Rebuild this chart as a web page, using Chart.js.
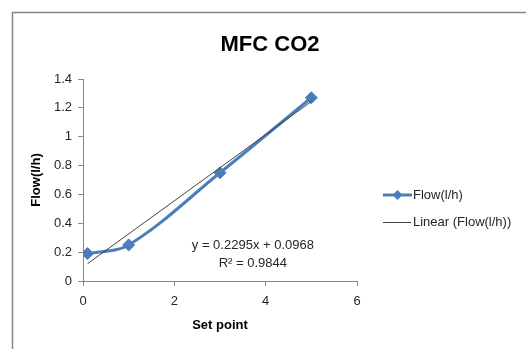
<!DOCTYPE html>
<html>
<head>
<meta charset="utf-8">
<script src="https://cdn.jsdelivr.net/npm/chart.js@4/dist/chart.umd.min.js"></script>
<style>
  html, body { margin: 0; padding: 0; background: #fff; }
  #wrap { position: relative; width: 526px; height: 349px; }
</style>
</head>
<body>
<div id="wrap"><canvas id="mfc-chart"></canvas></div>
<script>
// measured flow at each set point
const setPoints = [0.1, 1, 3, 5];
const flowValues = [0.19, 0.25, 0.75, 1.27];

// least squares fit shown on the chart
const trendSlope = 0.2295;
const trendIntercept = 0.0968;
const rSquared = 0.9844;

const xTicks = [0, 2, 4, 6];
const yTicks = [0, 0.2, 0.4, 0.6, 0.8, 1, 1.2, 1.4];

const chartTitle = "MFC CO2";
const seriesName = "Flow(l/h)";
const trendName = "Linear (Flow(l/h))";

const blue = "#4a7ebb";
const axisGrey = "#868686";
const textColor = "#262626";
const fontFamily = "'Liberation Sans', Arial, sans-serif";

const flowPoints = setPoints.map(function (x, i) {
  return { x: x, y: flowValues[i] };
});

const trendX = [setPoints[0], setPoints[setPoints.length - 1]];
const trendPoints = trendX.map(function (x) {
  return { x: x, y: trendSlope * x + trendIntercept };
});

// outer frame, title, equation text and legend
const decorations = {
  id: "decorations",
  beforeDraw: function (chart) {
    const ctx = chart.ctx;
    ctx.save();
    ctx.strokeStyle = axisGrey;
    ctx.lineWidth = 1.5;
    ctx.beginPath();
    ctx.moveTo(12.5, 349);
    ctx.lineTo(12.5, 12.5);
    ctx.lineTo(526, 12.5);
    ctx.stroke();

    ctx.fillStyle = "#000";
    ctx.font = "bold 22px " + fontFamily;
    ctx.textAlign = "center";
    ctx.textBaseline = "middle";
    ctx.fillText(chartTitle, 270, 45);
    ctx.restore();
  },
  afterDraw: function (chart) {
    const ctx = chart.ctx;
    const xs = chart.scales.x;
    const ys = chart.scales.y;
    ctx.save();
    ctx.fillStyle = textColor;
    ctx.font = "13px " + fontFamily;
    ctx.textAlign = "center";
    ctx.textBaseline = "middle";
    const eqX = xs.getPixelForValue(3.72);
    ctx.fillText("y = " + trendSlope + "x + " + trendIntercept, eqX, ys.getPixelForValue(0.25));
    ctx.fillText("R\u00b2 = " + rSquared, eqX, ys.getPixelForValue(0.125));

    // legend
    const lx = 383, ly1 = 195, ly2 = 222;
    ctx.strokeStyle = blue;
    ctx.lineWidth = 3;
    ctx.beginPath();
    ctx.moveTo(lx, ly1);
    ctx.lineTo(lx + 29, ly1);
    ctx.stroke();
    ctx.fillStyle = blue;
    ctx.beginPath();
    ctx.moveTo(lx + 14.5, ly1 - 5);
    ctx.lineTo(lx + 19.5, ly1);
    ctx.lineTo(lx + 14.5, ly1 + 5);
    ctx.lineTo(lx + 9.5, ly1);
    ctx.closePath();
    ctx.fill();

    ctx.strokeStyle = "#404040";
    ctx.lineWidth = 1;
    ctx.beginPath();
    ctx.moveTo(lx, ly2 + 0.5);
    ctx.lineTo(lx + 28, ly2 + 0.5);
    ctx.stroke();

    ctx.fillStyle = textColor;
    ctx.textAlign = "left";
    ctx.fillText(seriesName, lx + 30, ly1);
    ctx.fillText(trendName, lx + 30, ly2);
    ctx.restore();
  }
};

new Chart(document.getElementById("mfc-chart"), {
  type: "scatter",
  data: {
    datasets: [
      {
        label: trendName,
        data: trendPoints,
        showLine: true,
        borderColor: "#404040",
        borderWidth: 1,
        pointRadius: 0,
        tension: 0
      },
      {
        label: seriesName,
        data: flowPoints,
        showLine: true,
        borderColor: blue,
        backgroundColor: blue,
        borderWidth: 3,
        pointStyle: "rectRot",
        pointRadius: 6,
        pointBorderWidth: 1,
        tension: 0.35
      }
    ]
  },
  options: {
    responsive: true,
    maintainAspectRatio: false,
    animation: false,
    layout: { padding: { left: 0, right: 169, top: 79, bottom: 0 } },
    plugins: {
      legend: { display: false },
      tooltip: { enabled: false },
      title: { display: false }
    },
    scales: {
      x: {
        type: "linear",
        min: 0,
        max: 6,
        afterBuildTicks: function (scale) {
          scale.ticks = xTicks.map(function (v) { return { value: v }; });
        },
        afterFit: function (scale) { scale.height = 68; },
        grid: { drawOnChartArea: false, tickLength: 5, color: axisGrey },
        border: { color: axisGrey, width: 1 },
        ticks: {
          color: textColor,
          font: { family: fontFamily, size: 13 },
          padding: 8,
          callback: function (v) { return String(v); }
        },
        title: {
          display: true,
          text: "Set point",
          color: "#000",
          font: { family: fontFamily, size: 13, weight: "bold" },
          padding: { top: 0, bottom: 16 }
        }
      },
      y: {
        min: 0,
        max: 1.4,
        afterBuildTicks: function (scale) {
          scale.ticks = yTicks.map(function (v) { return { value: v }; });
        },
        afterFit: function (scale) { scale.width = 83; },
        grid: { drawOnChartArea: false, tickLength: 5, color: axisGrey },
        border: { color: axisGrey, width: 1 },
        ticks: {
          color: textColor,
          font: { family: fontFamily, size: 13 },
          padding: 6,
          callback: function (v) { return String(v); }
        },
        title: {
          display: true,
          text: "Flow(l/h)",
          color: "#000",
          font: { family: fontFamily, size: 13, weight: "bold" },
          padding: { top: 29, bottom: 0 }
        }
      }
    }
  },
  plugins: [decorations]
});
</script>
</body>
</html>
